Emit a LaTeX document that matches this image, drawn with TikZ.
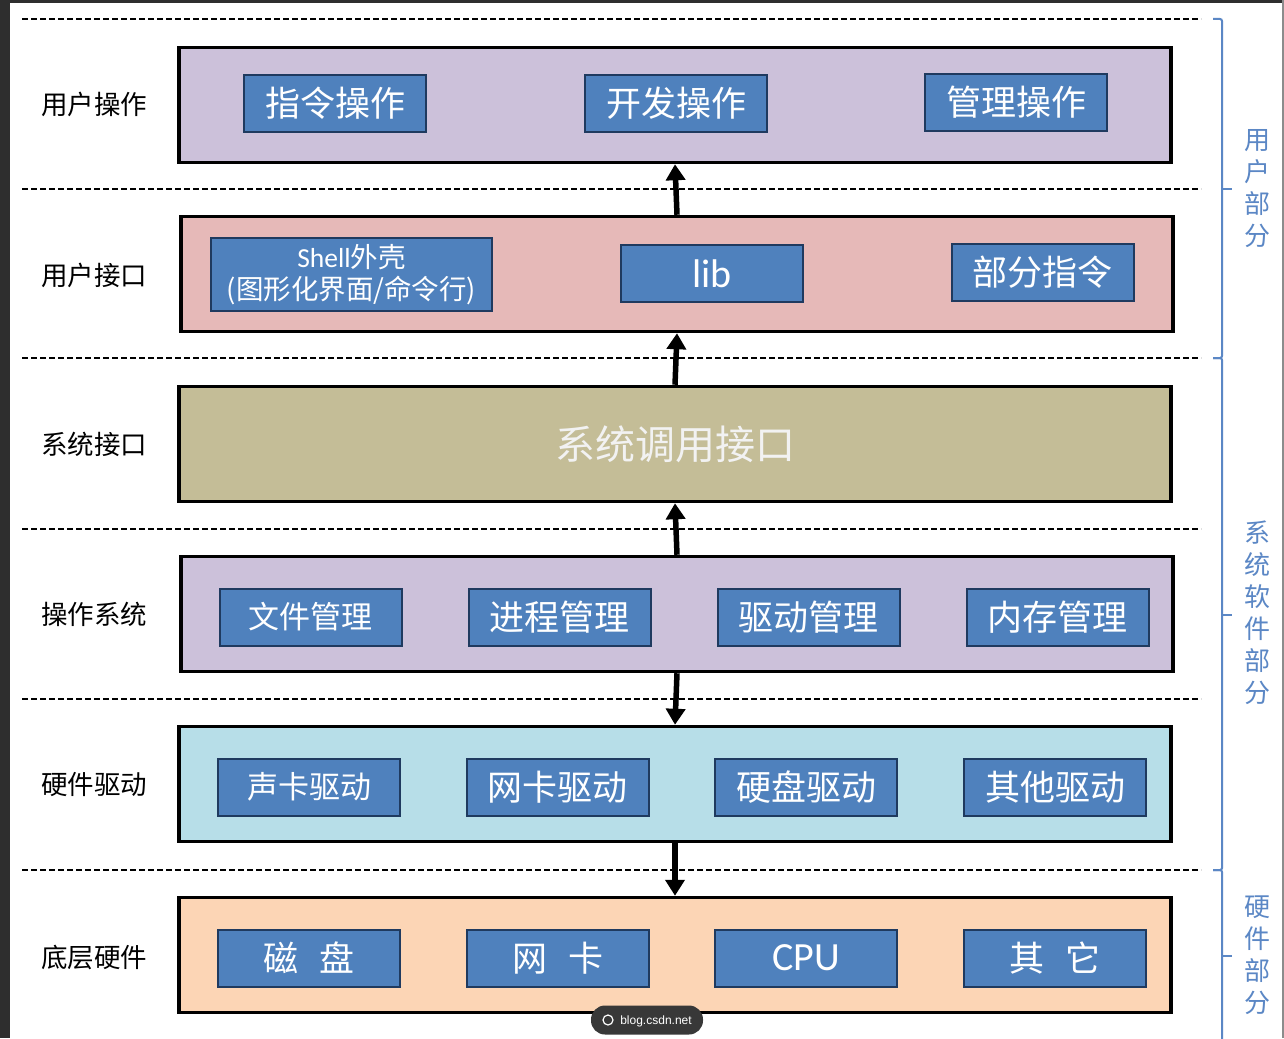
\documentclass[tikz,border=0pt]{standalone}
\usepackage{fontspec}
\setmainfont{Noto Sans CJK SC}
\newfontfamily\latinfont{Carlito}
\usetikzlibrary{positioning, arrows.meta}
\definecolor{opblue}{HTML}{4F81BD}
\definecolor{partline}{HTML}{1F3A5F}
\definecolor{sidetext}{HTML}{5B87C5}
\definecolor{lavender}{HTML}{CCC1DA}
\definecolor{rosy}{HTML}{E6B9B8}
\definecolor{khaki}{HTML}{C4BD97}
\definecolor{skyish}{HTML}{B7DEE8}
\definecolor{peach}{HTML}{FCD5B5}
\tikzset{
    >={Triangle[width=19pt,length=16pt]}, % bold arrow heads
    layer/.style={draw=black, line width=3.5pt, minimum width=992pt, minimum height=115pt, inner sep=0pt}, % one big layer box
    part/.style={draw=partline, line width=2pt, fill=opblue, text=white, minimum width=182pt, minimum height=57pt, inner sep=0pt, font=\fontsize{35}{40}\selectfont}, % blue boxes inside a layer
    small/.style={font=\fontsize{31}{36}\selectfont}, % a few boxes have smaller text
    latin/.style={font=\latinfont\fontsize{40}{44}\selectfont},
    tag/.style={text=black, font=\fontsize{26.5}{30}\selectfont}, % names on the left
    side/.style={text=sidetext, align=center, font=\fontsize{26}{32}\selectfont}, % names on the right
    sep/.style={dash pattern=on 6pt off 3pt, line width=1.4pt}, % dashed separators
    brace/.style={draw=sidetext, line width=2pt, rounded corners=2pt},
    flow/.style={->, line width=5.5pt},
}
\begin{document}
\begin{tikzpicture}[x=1pt, y=-1pt]
    \useasboundingbox (0,0) rectangle (1284,1038);
    \fill[white] (0,0) rectangle (1284,1038);
    \fill[black!82] (0,0) rectangle (10,1038);
    \fill[black!82] (0,0) rectangle (1284,3);
    \fill[black!45] (1282,0) rectangle (1284,1038);

    % separators
    \foreach \y in {19,189,358,529,699,870}
        \draw[sep] (22,\y) -- (1201,\y);

    % layers
    \node[layer, fill=lavender](uop) at (675,105){};
    \node[layer, fill=rosy](uif) at (677,274){};
    \node[layer, fill=khaki, text=white!95!black, font=\fontsize{40}{46}\selectfont](sif) at (675,444){系统调用接口};
    \node[layer, fill=lavender](os) at (677,614){};
    \node[layer, fill=skyish](drv) at (675,784){};
    \node[layer, fill=peach](hw) at (675,955){};

    % names on the left
    \node[tag] at (94,104){用户操作};
    \node[tag] at (94,275){用户接口};
    \node[tag] at (94,444){系统接口};
    \node[tag] at (94,614){操作系统};
    \node[tag] at (94,784){硬件驱动};
    \node[tag] at (94,957){底层硬件};

    % user operations
    \node[part](cmd) at (335,103.5){指令操作};
    \node[part](dev) at (676,103.5){开发操作};
    \node[part](mgr) at (1016,102.5){管理操作};

    % user interface
    \node[part, minimum width=281pt, minimum height=73pt, align=center, font=\fontsize{27.5}{32}\selectfont](shell) at (351.5,274.5){{\latinfont Shell}外壳\\(图形化界面/命令行)};
    \node[part, latin](lib) at (712,273.5){lib};
    \node[part](pcmd) at (1042.5,272.5){部分指令};

    % operating system
    \node[part, small](fm) at (310.5,617){文件管理};
    \node[part](pm) at (559.5,617){进程管理};
    \node[part](dm) at (808.5,617){驱动管理};
    \node[part](mm) at (1057.5,617){内存管理};

    % drivers
    \node[part, small](snd) at (309,787){声卡驱动};
    \node[part](net) at (557.5,787){网卡驱动};
    \node[part](hdd) at (806,787){硬盘驱动};
    \node[part](oth) at (1055,787){其他驱动};

    % hardware
    \node[part](disk) at (309,958){磁\hspace{0.6em}盘};
    \node[part](nic) at (557.5,958){网\hspace{0.6em}卡};
    \node[part, latin](cpu) at (806,958){CPU};
    \node[part](misc) at (1055,958){其\hspace{0.6em}它};

    % arrows between layers
    \draw[flow] (uif.north) -- (uop.south);
    \draw[flow] (sif.north) -- (uif.south);
    \draw[flow] (os.north) -- (sif.south);
    \draw[flow] (os.south) -- (drv.north);
    \draw[flow] (drv.south) -- (hw.north);

    % braces on the right
    \draw[brace] (1213,19) -- (1222,19) -- (1222,358) -- (1213,358);
    \draw[brace] (1222,189) -- (1232,189);
    \draw[brace] (1213,358) -- (1222,358) -- (1222,870) -- (1213,870);
    \draw[brace] (1222,615) -- (1232,615);
    \draw[brace] (1213,870) -- (1222,870) -- (1222,1040);
    \draw[brace] (1222,956) -- (1232,956);

    \node[side](usr) at (1257,189){用\\户\\部\\分};
    \node[side](sys) at (1257,613){系\\统\\软\\件\\部\\分};
    \node[side](hwp) at (1257,955){硬\\件\\部\\分};

    % watermark
    \node[fill=black!78, rounded corners=14pt, minimum width=112pt, minimum height=29pt, text=white, font=\fontspec{Liberation Sans}\fontsize{12}{14}\selectfont, inner sep=0pt, text depth=0pt](mark) at (647,1020){\hspace{18pt}blog.csdn.net};
    \draw[white, line width=1.2pt] (608,1020) circle (5pt);
\end{tikzpicture}
\end{document}
